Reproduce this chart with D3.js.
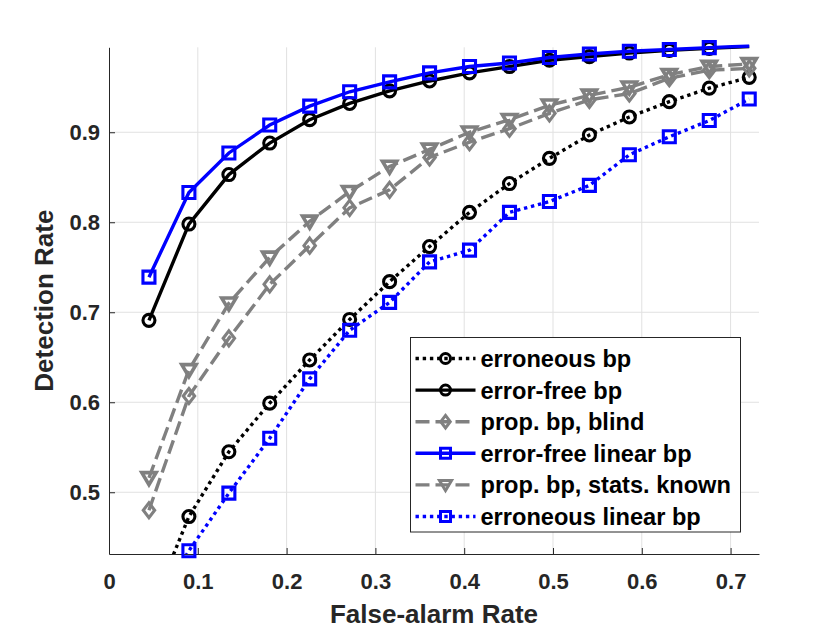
<!DOCTYPE html>
<html>
<head>
<meta charset="utf-8">
<script src="https://cdn.jsdelivr.net/npm/d3@7"></script>
<style>
  body { margin: 0; background: #fff; }
  svg { display: block; font-family: "Liberation Sans", Arial, sans-serif; font-weight: bold; }
</style>
</head>
<body>
<div id="chart"></div>
<script>
// data
const falseAlarm = [0.045, 0.090, 0.135, 0.181, 0.226, 0.271, 0.316, 0.361, 0.406, 0.451, 0.496, 0.541, 0.586, 0.631, 0.676, 0.721];
const erroneousBp = [0.364, 0.473, 0.545, 0.599, 0.647, 0.692, 0.734, 0.773, 0.811, 0.843, 0.871, 0.897, 0.917, 0.934, 0.949, 0.961];
const errorFreeBp = [0.691, 0.798, 0.853, 0.888, 0.914, 0.932, 0.946, 0.957, 0.966, 0.973, 0.980, 0.984, 0.988, 0.991, 0.9932, 0.9952];
const propBpBlind = [0.480, 0.607, 0.671, 0.731, 0.774, 0.816, 0.836, 0.872, 0.889, 0.904, 0.921, 0.936, 0.943, 0.960, 0.969, 0.971];
const errorFreeLinearBp = [0.739, 0.833, 0.877, 0.908, 0.929, 0.945, 0.956, 0.966, 0.973, 0.977, 0.983, 0.987, 0.990, 0.992, 0.9940, 0.9958];
const propBpStatsKnown = [0.516, 0.636, 0.710, 0.761, 0.801, 0.834, 0.862, 0.881, 0.900, 0.914, 0.930, 0.941, 0.950, 0.964, 0.973, 0.976];
const erroneousLinearBp = [0.360, 0.435, 0.499, 0.560, 0.626, 0.680, 0.711, 0.756, 0.769, 0.811, 0.823, 0.841, 0.875, 0.895, 0.913, 0.937];

const seriesNames = ['erroneous bp', 'error-free bp', 'prop. bp, blind', 'error-free linear bp', 'prop. bp, stats. known', 'erroneous linear bp'];
const xTicks = [0, 0.1, 0.2, 0.3, 0.4, 0.5, 0.6, 0.7];
const yTicks = [0.5, 0.6, 0.7, 0.8, 0.9];
const xLabel = 'False-alarm Rate';
const yLabel = 'Detection Rate';

const config = {
  width: 840, height: 630,
  left: 109, top: 47.3, right: 759, bottom: 554,
  axisColor: '#262626', gridColor: '#e1e1e1',
  lineWidth: 3.4
};

// styling per series, same order as seriesNames
const styles = [
  { values: erroneousBp, color: '#000000', dash: '3.4,3.8', marker: 'circle' },
  { values: errorFreeBp, color: '#000000', dash: null, marker: 'circle' },
  { values: propBpBlind, color: '#808080', dash: '14,6', marker: 'diamond' },
  { values: errorFreeLinearBp, color: '#0000ff', dash: null, marker: 'square' },
  { values: propBpStatsKnown, color: '#808080', dash: '14,6', marker: 'triangle' },
  { values: erroneousLinearBp, color: '#0000ff', dash: '3.4,3.8', marker: 'square' }
];

// marker outlines, r = half size
function markerPath(type, r) {
  if (type === 'circle') return d3.symbol(d3.symbolCircle, Math.PI * r * r)();
  if (type === 'square') return `M${-r},${-r}H${r}V${r}H${-r}Z`;
  if (type === 'diamond') return `M0,${-r * 1.25}L${r * 0.95},0L0,${r * 1.25}L${-r * 0.95},0Z`;
  // downward triangle
  return `M${-r * 1.1},${-r * 0.8}L${r * 1.1},${-r * 0.8}L0,${r * 1.05}Z`;
}

const svg = d3.select('#chart')
  .append('svg')
  .attr('width', config.width)
  .attr('height', config.height);

const x = d3.scaleLinear().domain([0, 0.732]).range([config.left, config.right]);
const y = d3.scaleLinear().domain([0.4314, 0.9944]).range([config.bottom, config.top]);

// grid
svg.append('g').selectAll('line.gx')
  .data(xTicks.filter(d => d > 0))
  .join('line')
  .attr('x1', d => x(d)).attr('x2', d => x(d))
  .attr('y1', config.top).attr('y2', config.bottom)
  .attr('stroke', config.gridColor).attr('stroke-width', 1);
svg.append('g').selectAll('line.gy')
  .data(yTicks)
  .join('line')
  .attr('x1', config.left).attr('x2', config.right)
  .attr('y1', d => y(d)).attr('y2', d => y(d))
  .attr('stroke', config.gridColor).attr('stroke-width', 1);

// axes (box off, ticks pointing inward)
const axisX = svg.append('g')
  .attr('transform', `translate(0, ${config.bottom})`)
  .call(d3.axisBottom(x).tickValues(xTicks).tickSize(-6).tickSizeOuter(0).tickPadding(19)
    .tickFormat(d => d === 0 ? '0' : d3.format('.1f')(d)));
const axisY = svg.append('g')
  .attr('transform', `translate(${config.left}, 0)`)
  .call(d3.axisLeft(y).tickValues(yTicks).tickSize(-6).tickSizeOuter(0).tickPadding(9)
    .tickFormat(d3.format('.1f')));
[axisX, axisY].forEach(a => {
  a.select('.domain').attr('stroke', config.axisColor);
  a.selectAll('.tick line').attr('stroke', config.axisColor);
  a.selectAll('.tick text')
    .attr('fill', config.axisColor)
    .style('font-size', '22px')
    .style('font-weight', 'bold');
});

// axis labels
svg.append('text')
  .attr('x', (config.left + config.right) / 2)
  .attr('y', 623)
  .attr('text-anchor', 'middle')
  .attr('fill', config.axisColor)
  .style('font-size', '26px')
  .text(xLabel);
svg.append('text')
  .attr('transform', `translate(53, ${(config.top + config.bottom) / 2}) rotate(-90)`)
  .attr('text-anchor', 'middle')
  .attr('fill', config.axisColor)
  .style('font-size', '26px')
  .text(yLabel);

// clip for lines, a little slack on top like the original
svg.append('clipPath').attr('id', 'plot-clip')
  .append('rect')
  .attr('x', config.left)
  .attr('y', config.top - 3)
  .attr('width', config.right - config.left)
  .attr('height', config.bottom - config.top + 3);

const line = d3.line()
  .x(d => x(d[0]))
  .y(d => y(d[1]));

const [yMin, yMax] = y.domain();

styles.forEach((s, i) => {
  const pts = falseAlarm.map((fa, k) => [fa, s.values[k]]);
  const g = svg.append('g').attr('class', 'series');
  g.append('path')
    .attr('clip-path', 'url(#plot-clip)')
    .attr('d', line(pts))
    .attr('fill', 'none')
    .attr('stroke', s.color)
    .attr('stroke-width', config.lineWidth)
    .attr('stroke-dasharray', s.dash);
  // markers only where the point sits inside the axes limits
  g.selectAll('.marker')
    .data(pts.filter(d => d[1] >= yMin && d[1] <= yMax))
    .join('path')
    .attr('class', 'marker')
    .attr('transform', d => `translate(${x(d[0])}, ${y(d[1])})`)
    .attr('d', markerPath(s.marker, s.marker === 'triangle' ? 6.5 : 6))
    .attr('fill', 'none')
    .attr('stroke', s.color)
    .attr('stroke-width', s.marker === 'triangle' ? 3.6 : 3.1);
});

// legend
const legend = svg.append('g').attr('transform', 'translate(410.5, 337.5)');
legend.append('rect')
  .attr('width', 330)
  .attr('height', 194.5)
  .attr('fill', '#fff')
  .attr('stroke', config.axisColor)
  .attr('stroke-width', 1);
const rows = legend.selectAll('.row')
  .data(styles.map((s, i) => ({ ...s, name: seriesNames[i] })))
  .join('g')
  .attr('class', 'row')
  .attr('transform', (d, i) => `translate(0, ${21 + i * 31.6})`);
rows.append('line')
  .attr('x1', 5).attr('x2', 65)
  .attr('stroke', d => d.color)
  .attr('stroke-width', config.lineWidth)
  .attr('stroke-dasharray', d => d.dash);
rows.append('path')
  .attr('transform', 'translate(35, 0)')
  .attr('d', d => markerPath(d.marker, d.marker === 'triangle' ? 5.5 : 5))
  .attr('fill', 'none')
  .attr('stroke', d => d.color)
  .attr('stroke-width', 3);
rows.append('text')
  .attr('x', 70)
  .attr('dy', '0.36em')
  .attr('fill', '#000')
  .style('font-size', '23.6px')
  .text(d => d.name);
</script>
</body>
</html>
